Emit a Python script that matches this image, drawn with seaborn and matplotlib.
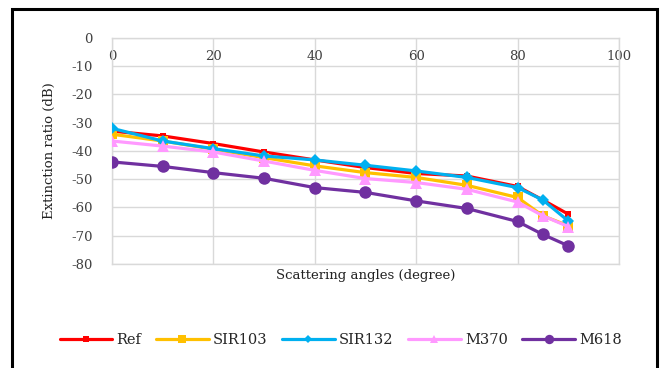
import pandas as pd
import seaborn as sns
import matplotlib.pyplot as plt
from matplotlib.patches import Rectangle

# scattering angles (degree)
angles = [0, 10, 20, 30, 40, 50, 60, 70, 80, 85, 90]

# extinction ratio (dB) per sample
ref = [-33.0, -34.7, -37.4, -40.4, -43.2, -45.9, -48.0, -48.9, -52.6, -57.4, -62.4]
sir103 = [-34.1, -36.5, -39.4, -42.4, -45.3, -47.7, -49.4, -52.2, -56.5, -63.0, -66.5]
sir132 = [-32.0, -36.5, -39.2, -41.8, -43.2, -45.1, -47.1, -49.4, -53.0, -57.4, -64.8]
m370 = [-36.5, -38.3, -40.4, -43.6, -46.9, -49.8, -51.2, -53.6, -58.1, -63.0, -66.8]
m618 = [-43.9, -45.5, -47.7, -49.7, -53.0, -54.7, -57.7, -60.4, -65.0, -69.6, -73.6]

names = ['Ref', 'SIR103', 'SIR132', 'M370', 'M618']
series = [ref, sir103, sir132, m370, m618]
colors = ['#FF0000', '#FFC000', '#00B0F0', '#FF99FF', '#7030A0']
markers = ['s', 's', 'D', '^', 'o']
msizes = [5, 7, 6, 8, 9]

df = pd.DataFrame({
    'angle': angles * len(names),
    'value': sum(series, []),
    'sample': [n for n in names for _ in angles],
})

sns.set_theme(style='white')
plt.rcParams['font.family'] = ['DejaVu Serif', 'Liberation Serif']
plt.rcParams['axes.unicode_minus'] = False

fig = plt.figure(figsize=(6.62, 3.68), dpi=100)
ax = fig.add_axes([0.169, 0.283, 0.766, 0.614])

for name, col, mk, ms in zip(names, colors, markers, msizes):
    sub = df[df['sample'] == name]
    sns.lineplot(data=sub, x='angle', y='value', color=col, marker=mk,
                 markersize=ms, markeredgewidth=0, linewidth=2.3,
                 label=name, ax=ax, zorder=3)

ax.set_xlim(0, 100)
ax.set_ylim(-80, 0)
ax.set_xticks(range(0, 101, 20))
ax.set_yticks(range(-80, 1, 10))
ax.grid(True, color='#d9d9d9', linewidth=1)
for s in ax.spines.values():
    s.set_color('#d9d9d9')
    s.set_linewidth(1)

# x axis crosses at 0 dB -> labels sit just under the top edge
ax.tick_params(axis='x', bottom=False, top=False, labelbottom=False,
               labeltop=True, pad=-24, labelsize=9.5, colors='#404040')
ax.tick_params(axis='y', left=False, labelsize=9.5, colors='#404040', pad=8)

ax.set_xlabel('Scattering angles (degree)', fontsize=9.5, color='#222222', labelpad=4)
ax.set_ylabel('Extinction ratio (dB)', fontsize=9.5, color='#222222', labelpad=11)

ax.legend_.remove()
handles, labels = ax.get_legend_handles_labels()
fig.legend(handles, labels, loc='center', bbox_to_anchor=(0.515, 0.077), ncol=5,
           frameon=False, fontsize=10.5, handlelength=3.6, handletextpad=0.3,
           columnspacing=1.0, markerscale=0.75)

# outer black frame
fig.patches.append(Rectangle((0.018, -0.05), 0.974, 1.026, transform=fig.transFigure,
                             fill=False, edgecolor='black', linewidth=2.2))

fig.savefig('out.png', dpi=100)
